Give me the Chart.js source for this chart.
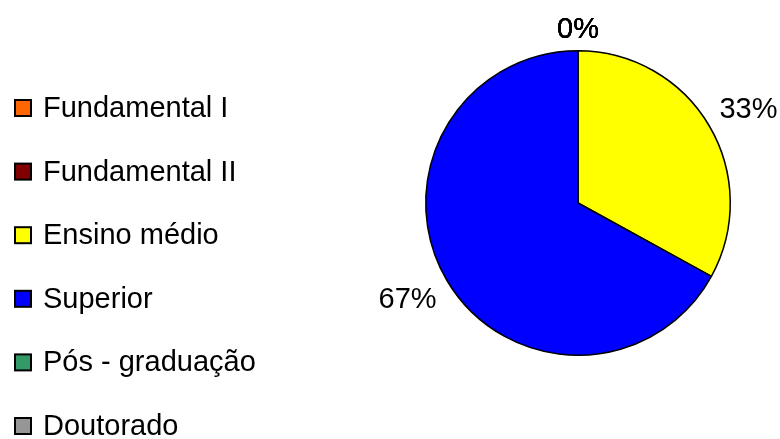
<!DOCTYPE html>
<html>
<head>
<meta charset="utf-8">
<script src="https://cdn.jsdelivr.net/npm/chart.js@4/dist/chart.umd.min.js"></script>
<style>
  html, body { margin: 0; padding: 0; background: #fff; }
  #wrap { width: 780px; height: 439px; position: relative; }
</style>
</head>
<body>
<div id="wrap"><canvas id="pie"></canvas></div>
<script>
// Escolaridade: share of each level, in percent
const levels = ['Fundamental I', 'Fundamental II', 'Ensino médio', 'Superior', 'Pós - graduação', 'Doutorado'];
const shares = [0, 0, 33, 67, 0, 0];
const colors = ['#FF6600', '#800000', '#FFFF00', '#0000FF', '#339966', '#969696'];

const FONT = '29px "Liberation Sans", Arial, sans-serif';

// legend on the left, one row per level
const sideLegend = {
  id: 'sideLegend',
  afterDraw(chart) {
    const ctx = chart.ctx;
    ctx.save();
    ctx.font = FONT;
    ctx.textBaseline = 'middle';
    ctx.textAlign = 'left';
    chart.data.labels.forEach((lab, i) => {
      const y = 108 + i * 63.6;
      ctx.fillStyle = colors[i];
      ctx.fillRect(15, y - 8, 16, 16);
      ctx.lineWidth = 2;
      ctx.strokeStyle = '#000';
      ctx.strokeRect(15, y - 8, 16, 16);
      ctx.fillStyle = '#000';
      ctx.fillText(lab, 43, y + 1);
    });
    ctx.restore();
  }
};

const clamp = v => Math.max(-1, Math.min(1, v));

// percent labels just outside each slice
const outerLabels = {
  id: 'outerLabels',
  afterDatasetsDraw(chart) {
    const ctx = chart.ctx;
    const meta = chart.getDatasetMeta(0);
    ctx.save();
    ctx.font = FONT;
    ctx.fillStyle = '#000';
    ctx.textAlign = 'center';
    ctx.textBaseline = 'middle';
    meta.data.forEach((arc, i) => {
      const { x, y, startAngle, endAngle, outerRadius } = arc.getProps(['x', 'y', 'startAngle', 'endAngle', 'outerRadius'], true);
      const mid = (startAngle + endAngle) / 2;
      const dx = Math.cos(mid), dy = Math.sin(mid);
      const txt = shares[i] + '%';
      const w = ctx.measureText(txt).width;
      const r = outerRadius + 12;
      const tx = x + dx * r + clamp(dx * 2) * w / 2;
      const ty = y + dy * r + clamp(dy * 2) * 11;
      ctx.fillText(txt, tx, ty + 2);
    });
    ctx.restore();
  }
};

new Chart(document.getElementById('pie'), {
  type: 'pie',
  data: {
    labels: levels,
    datasets: [{
      data: shares,
      backgroundColor: colors,
      borderColor: '#000',
      borderWidth: 1.5,
    }],
  },
  options: {
    responsive: true,
    maintainAspectRatio: false,
    animation: false,
    layout: { padding: { left: 425, right: 49, top: 50, bottom: 83 } },
    plugins: { legend: { display: false }, tooltip: { enabled: false } },
  },
  plugins: [sideLegend, outerLabels],
});
</script>
</body>
</html>
